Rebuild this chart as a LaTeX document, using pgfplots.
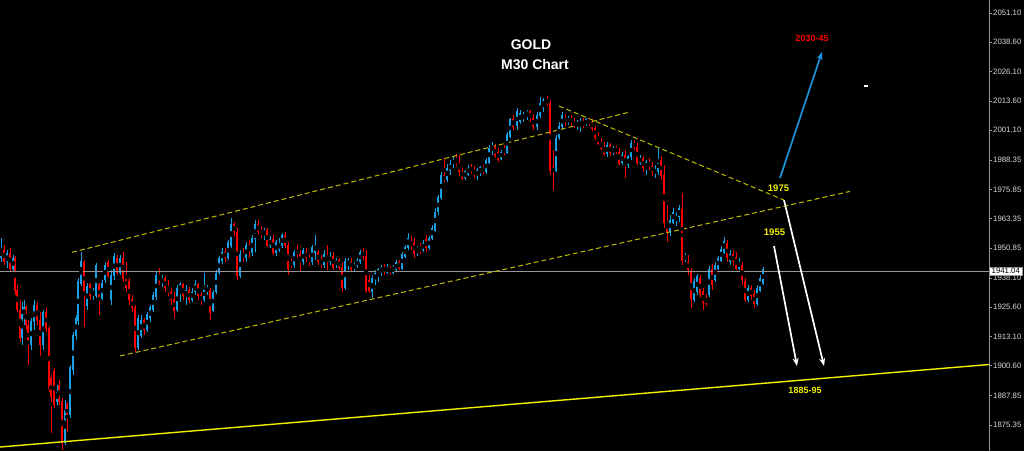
\documentclass[border=0pt]{standalone}
\usepackage{fontspec}
\setmainfont{Liberation Sans}
\usepackage{pgfplots}
\usepackage{pgfplotstable}
\pgfplotsset{compat=1.18}
\usetikzlibrary{arrows.meta}
\definecolor{cblue}{RGB}{25,160,230}
\definecolor{cred}{RGB}{255,0,0}
\definecolor{dyellow}{RGB}{190,190,0}
\definecolor{ayellow}{RGB}{240,240,0}
\definecolor{ablue}{RGB}{30,150,220}
\definecolor{axgray}{RGB}{150,150,150}

\pgfplotstableread{
x o h l c
1 1946.6 1955.1 1944.9 1950.0
4 1950.0 1952.1 1943.6 1944.9
7 1944.9 1950.0 1942.3 1948.7
10 1948.7 1950.9 1940.6 1942.3
13 1942.3 1947.9 1940.6 1946.6
15 1946.6 1947.4 1930.8 1932.9
17 1932.9 1935.1 1923.5 1924.4
20 1924.4 1928.7 1910.8 1912.5
22 1912.5 1927.8 1909.5 1922.3
24 1922.3 1928.7 1918.0 1925.3
26 1925.3 1926.5 1915.9 1918.0
28 1918.0 1920.1 1900.9 1909.5
31 1909.5 1921.0 1907.3 1919.3
34 1919.3 1928.7 1915.9 1926.5
37 1926.5 1927.8 1918.0 1920.1
40 1920.1 1923.5 1904.8 1909.5
43 1909.5 1924.4 1907.3 1923.5
46 1923.5 1925.3 1915.0 1916.7
49 1916.7 1917.6 1889.4 1891.1
51 1895.4 1896.7 1871.9 1887.3
54 1898.0 1899.7 1882.6 1883.9
57 1885.2 1892.4 1883.9 1889.4
59 1892.4 1894.5 1883.9 1885.2
62 1885.2 1886.9 1864.7 1867.7
65 1867.7 1886.0 1866.8 1881.7
67 1883.9 1885.2 1872.4 1878.8
70 1879.6 1900.9 1878.2 1899.7
73 1898.8 1915.0 1896.7 1913.7
76 1913.7 1922.3 1911.6 1921.0
78 1920.1 1938.0 1918.0 1936.4
81 1935.9 1949.1 1934.6 1944.9
84 1944.9 1945.7 1917.2 1930.8
87 1926.5 1935.9 1924.4 1934.6
90 1935.1 1935.9 1928.7 1930.4
93 1930.8 1933.8 1928.7 1932.9
96 1930.4 1944.5 1929.5 1943.6
99 1935.1 1935.9 1922.3 1928.7
102 1929.5 1937.2 1928.7 1935.9
105 1937.2 1944.9 1935.9 1943.6
108 1944.5 1945.7 1938.0 1939.3
111 1928.7 1941.5 1926.5 1939.3
114 1939.3 1948.7 1937.2 1947.4
117 1946.6 1947.9 1939.3 1940.6
120 1940.6 1947.9 1939.3 1946.6
123 1946.6 1949.1 1936.4 1938.0
126 1938.0 1944.9 1932.1 1933.8
129 1936.4 1938.0 1926.5 1928.7
132 1928.7 1930.8 1923.5 1925.3
135 1925.3 1926.5 1906.5 1908.2
138 1908.2 1922.3 1907.3 1921.0
141 1913.7 1922.3 1912.5 1920.1
144 1920.1 1921.0 1913.7 1915.9
147 1915.9 1923.5 1915.0 1922.3
150 1921.0 1926.5 1919.3 1925.3
153 1924.4 1932.1 1923.5 1930.8
156 1930.0 1940.6 1928.7 1939.3
159 1939.3 1942.3 1935.1 1936.4
162 1936.4 1939.3 1934.2 1938.0
165 1938.0 1938.9 1932.1 1933.8
168 1933.8 1937.2 1930.4 1931.7
171 1931.7 1933.8 1926.5 1928.7
174 1928.7 1932.1 1921.0 1924.4
177 1924.4 1935.1 1923.5 1933.8
180 1932.9 1936.4 1927.8 1935.1
183 1935.1 1935.9 1928.7 1930.4
186 1930.4 1935.1 1926.5 1932.9
189 1932.9 1934.2 1927.4 1928.7
192 1928.7 1933.8 1927.8 1932.1
195 1932.1 1937.2 1930.8 1935.1
198 1935.1 1935.9 1928.7 1930.4
201 1930.4 1932.1 1926.5 1928.7
204 1928.7 1940.2 1927.8 1933.8
207 1932.9 1935.1 1930.8 1933.8
210 1932.9 1933.8 1920.1 1923.5
213 1924.4 1932.9 1923.5 1932.1
216 1932.1 1941.5 1931.2 1940.2
219 1940.2 1947.4 1939.3 1946.2
222 1945.7 1950.9 1944.0 1949.1
225 1949.1 1950.9 1944.9 1946.6
228 1946.6 1954.3 1945.7 1953.0
231 1952.1 1963.6 1950.9 1961.1
234 1961.1 1961.9 1956.0 1957.7
237 1957.7 1959.4 1937.2 1939.3
240 1939.3 1950.0 1938.0 1947.9
243 1947.9 1950.9 1944.9 1946.6
246 1946.6 1953.4 1944.9 1952.1
249 1952.1 1954.3 1946.6 1950.0
252 1949.1 1956.4 1947.4 1955.1
255 1955.1 1962.8 1949.1 1960.7
258 1960.7 1962.8 1956.4 1957.7
261 1957.7 1960.2 1955.1 1956.4
264 1956.4 1959.4 1954.3 1958.5
267 1958.5 1959.4 1951.3 1952.1
270 1952.1 1956.0 1950.9 1954.3
273 1954.3 1956.4 1947.9 1949.1
276 1949.1 1954.3 1947.4 1953.0
279 1950.0 1955.1 1949.1 1953.0
282 1952.1 1957.2 1950.9 1956.0
285 1956.0 1957.7 1950.9 1952.1
288 1952.1 1953.4 1939.3 1942.3
291 1944.9 1946.6 1942.3 1943.6
294 1943.6 1950.0 1942.3 1949.1
297 1950.0 1952.1 1946.6 1947.9
300 1947.9 1950.0 1940.6 1944.9
303 1944.9 1950.9 1943.6 1950.0
306 1949.1 1950.9 1944.9 1946.6
309 1946.6 1948.3 1943.2 1944.9
312 1944.9 1952.1 1943.6 1950.9
315 1949.1 1956.4 1945.7 1952.1
318 1949.1 1950.0 1943.6 1944.9
321 1944.9 1947.9 1942.3 1944.0
324 1944.0 1950.0 1942.3 1947.9
327 1946.6 1952.1 1941.5 1944.9
330 1944.9 1949.1 1943.6 1947.4
333 1947.4 1949.1 1941.5 1942.7
336 1943.6 1946.6 1942.3 1945.7
339 1945.7 1946.6 1941.5 1942.7
342 1942.7 1944.9 1932.1 1933.8
345 1933.8 1946.6 1932.9 1944.9
348 1943.6 1946.6 1941.5 1945.7
351 1944.9 1946.6 1940.6 1942.3
354 1942.3 1944.9 1940.6 1943.6
357 1943.2 1946.6 1942.3 1945.7
360 1944.9 1950.0 1944.0 1949.1
363 1949.1 1950.9 1945.7 1947.4
366 1947.4 1950.0 1931.7 1932.9
369 1937.2 1939.3 1931.7 1932.9
372 1932.1 1939.3 1929.5 1938.0
375 1937.2 1941.5 1935.1 1940.2
378 1939.3 1942.3 1936.4 1941.5
381 1940.6 1943.6 1938.9 1942.7
384 1942.3 1944.0 1939.3 1941.5
387 1940.6 1944.0 1939.8 1942.3
390 1942.3 1943.2 1939.3 1940.6
393 1940.6 1943.6 1939.8 1942.7
396 1941.5 1945.7 1940.6 1944.5
399 1944.5 1945.7 1941.5 1942.7
402 1942.3 1949.1 1941.5 1948.3
405 1947.4 1952.1 1946.6 1951.3
408 1950.9 1957.2 1950.0 1955.1
411 1953.4 1956.0 1950.0 1952.1
414 1953.4 1955.1 1946.6 1948.7
417 1950.0 1951.7 1947.4 1950.9
420 1950.9 1953.0 1948.3 1949.6
423 1950.0 1954.3 1949.1 1953.0
426 1954.3 1956.4 1949.1 1950.9
429 1950.9 1956.0 1950.0 1955.1
432 1955.1 1960.7 1954.3 1959.4
435 1958.5 1967.9 1957.7 1966.2
438 1966.2 1973.5 1964.9 1972.2
441 1972.2 1983.3 1971.3 1982.0
444 1981.6 1989.2 1979.0 1979.9
447 1979.9 1986.7 1979.0 1985.0
450 1984.1 1988.4 1982.0 1986.7
453 1986.7 1990.1 1985.0 1988.4
456 1988.4 1991.0 1985.8 1987.1
459 1987.1 1990.5 1981.6 1983.3
462 1983.3 1985.0 1979.9 1981.1
465 1981.1 1984.1 1979.9 1983.3
468 1982.4 1986.3 1981.6 1985.0
471 1985.0 1986.7 1982.4 1984.1
474 1984.1 1985.8 1980.7 1982.0
477 1981.6 1985.0 1979.9 1984.1
480 1983.3 1985.8 1981.6 1985.0
483 1985.0 1986.3 1982.4 1983.7
486 1983.3 1989.2 1982.4 1988.4
489 1987.5 1994.8 1986.7 1993.5
492 1992.7 1996.1 1990.5 1994.8
495 1993.9 1995.2 1989.2 1990.5
498 1991.8 1993.5 1987.5 1988.4
501 1989.2 1992.7 1988.4 1991.8
504 1992.7 1994.8 1990.5 1991.8
507 1991.8 2000.3 1991.0 1999.1
510 1998.6 2006.3 1997.8 2005.5
513 2005.5 2007.6 2001.2 2002.5
517 2002.9 2010.6 2001.2 2008.9
520 2004.6 2009.7 2003.8 2008.4
523 2006.3 2008.9 2004.6 2007.6
527 2007.6 2009.7 2005.5 2008.9
530 2008.9 2009.7 2004.6 2006.3
533 2006.3 2008.0 2001.2 2002.5
537 2002.5 2008.9 2001.2 2007.2
540 2007.2 2015.3 2006.3 2012.3
543 2011.4 2014.8 2008.9 2014.0
547 2014.0 2015.7 2011.4 2012.7
550 2012.7 2014.0 1982.0 1984.1
553 1985.0 1992.7 1975.6 1983.3
556 1984.1 1999.1 1983.3 1997.8
559 1997.8 2004.6 1996.9 2002.9
562 2002.5 2008.9 2001.2 2007.2
565 2006.3 2008.0 2002.9 2004.6
568 2004.6 2007.2 2003.3 2006.3
571 2006.3 2007.6 2002.9 2004.2
574 2004.2 2006.3 2002.0 2003.3
577 2002.9 2005.5 2001.2 2004.6
580 2003.8 2006.3 2000.3 2004.2
583 2004.6 2006.3 2002.0 2002.9
586 2003.8 2006.3 2002.9 2005.5
589 2005.5 2006.3 2002.9 2004.2
592 2004.6 2005.9 2000.8 2002.0
595 2002.0 2002.9 1996.9 1998.2
598 1998.2 2000.3 1994.8 1995.6
601 1995.6 1997.8 1992.7 1993.5
604 1993.9 1996.1 1990.1 1991.0
607 1991.0 1996.1 1989.7 1994.8
610 1994.8 1995.6 1990.1 1991.4
613 1991.4 1994.4 1990.5 1993.5
616 1993.5 1994.4 1991.0 1991.8
619 1991.8 1993.5 1986.3 1987.1
622 1987.5 1991.8 1986.3 1990.5
625 1990.5 1992.7 1980.7 1986.3
628 1986.3 1990.5 1985.0 1989.7
631 1989.7 1996.9 1988.4 1995.6
634 1995.6 1996.9 1992.7 1993.9
637 1993.9 1995.6 1986.3 1987.5
640 1987.5 1990.5 1986.3 1989.2
643 1989.2 1990.1 1983.3 1985.0
646 1985.0 1988.4 1982.0 1987.5
649 1987.1 1989.2 1984.1 1985.8
652 1985.8 1987.5 1981.6 1983.3
655 1983.3 1986.3 1980.7 1984.1
658 1983.3 1993.9 1982.0 1988.4
661 1988.4 1990.1 1979.9 1981.6
664 1981.6 1986.3 1959.4 1961.9
667 1961.9 1969.2 1953.4 1957.7
670 1957.7 1964.9 1956.0 1962.8
673 1961.9 1967.9 1961.1 1966.2
676 1962.8 1966.2 1960.2 1964.5
679 1964.5 1969.2 1961.9 1967.9
682 1967.1 1974.3 1943.6 1945.7
685 1946.6 1948.7 1944.9 1947.4
688 1944.9 1947.9 1939.3 1941.5
691 1940.6 1942.3 1925.3 1929.5
694 1928.7 1938.0 1927.8 1936.4
697 1932.1 1939.8 1930.8 1938.9
700 1938.0 1939.3 1929.5 1931.2
703 1932.1 1933.8 1924.4 1927.8
706 1929.5 1931.2 1926.1 1927.0
709 1930.8 1943.2 1930.0 1941.5
712 1941.5 1944.0 1932.9 1935.1
715 1937.2 1944.9 1936.4 1943.6
718 1942.3 1947.4 1941.5 1946.6
721 1945.7 1951.7 1944.9 1950.4
724 1949.1 1955.6 1948.3 1953.8
727 1952.6 1954.3 1944.9 1946.6
730 1944.9 1950.0 1943.6 1948.3
733 1947.9 1950.0 1943.2 1944.9
736 1947.0 1949.1 1941.5 1942.3
739 1942.3 1946.6 1941.5 1944.9
742 1943.6 1944.9 1935.1 1937.2
745 1936.4 1938.0 1927.8 1928.7
748 1928.7 1935.1 1927.8 1933.8
751 1933.8 1935.1 1928.7 1930.4
754 1931.2 1932.9 1925.3 1927.0
757 1927.0 1935.1 1926.1 1933.8
760 1932.9 1939.3 1932.1 1938.0
763 1935.9 1942.7 1935.1 1941.5
}\candles

\begin{document}
\begin{tikzpicture}
\fill[black] (0,0) rectangle (1024pt,451pt);
\begin{axis}[
  at={(0pt,0pt)}, anchor=south west,
  scale only axis, width=989pt, height=451pt,
  xmin=0, xmax=989, ymin=1864.25, ymax=2056.65,
  clip=false,
  axis line style={draw=none},
  xtick=\empty,
  ytick={1875.35,1887.85,1900.60,1913.10,1925.60,1938.10,1950.85,1963.35,1975.85,1988.35,2001.10,2013.60,2026.10,2038.60,2051.10},
  yticklabels={1875.35,1887.85,1900.60,1913.10,1925.60,1938.10,1950.85,1963.35,1975.85,1988.35,2001.10,2013.60,2026.10,2038.60,2051.10},
  ytick pos=right, yticklabel pos=right,
  tick align=outside, major tick length=2.5pt,
  ytick style={draw=axgray, line width=0.6pt},
  yticklabel style={font=\fontsize{7.8}{8}\selectfont, text=white!85!black, inner sep=0pt, anchor=west, xshift=1.5pt},
]
% candles: wicks then bodies
\addplot[only marks, mark=none, forget plot, error bars/.cd, y dir=both, y explicit, error mark=none,
  error bar style={line width=1pt, draw=cblue}]
  table[x=x, y expr={\thisrow{c}>=\thisrow{o} ? (\thisrow{h}+\thisrow{l})/2 : nan}, y error expr={(\thisrow{h}-\thisrow{l})/2}] {\candles};
\addplot[only marks, mark=none, forget plot, error bars/.cd, y dir=both, y explicit, error mark=none,
  error bar style={line width=1pt, draw=cred}]
  table[x=x, y expr={\thisrow{c}<\thisrow{o} ? (\thisrow{h}+\thisrow{l})/2 : nan}, y error expr={(\thisrow{h}-\thisrow{l})/2}] {\candles};
\addplot[only marks, mark=none, forget plot, error bars/.cd, y dir=both, y explicit, error mark=none,
  error bar style={line width=2.6pt, draw=cblue}]
  table[x=x, y expr={\thisrow{c}>=\thisrow{o} ? (\thisrow{o}+\thisrow{c})/2 : nan}, y error expr={abs(\thisrow{c}-\thisrow{o})/2+0.2}] {\candles};
\addplot[only marks, mark=none, forget plot, error bars/.cd, y dir=both, y explicit, error mark=none,
  error bar style={line width=2.6pt, draw=cred}]
  table[x=x, y expr={\thisrow{c}<\thisrow{o} ? (\thisrow{o}+\thisrow{c})/2 : nan}, y error expr={abs(\thisrow{c}-\thisrow{o})/2+0.2}] {\candles};

% current price line
\addplot[axgray, line width=0.8pt] coordinates {(0,1941.04) (989,1941.04)};
% channel & trend lines
\addplot[dyellow, line width=1pt, dash pattern=on 5pt off 3pt] coordinates {(72,1949.0) (630,2008.9)};
\addplot[dyellow, line width=1pt, dash pattern=on 5pt off 3pt] coordinates {(120,1904.8) (850,1975.0)};
\addplot[dyellow, line width=1pt, dash pattern=on 5pt off 3pt] coordinates {(559,2011.4) (784,1971.3)};
\addplot[ayellow, line width=1.4pt] coordinates {(0,1865.95) (989,1901.15)};
% arrows
\addplot[white, line width=1.7pt, -{Stealth[length=8pt,width=6pt]}] coordinates {(774,1951.7) (797,1900.5)};
\addplot[white, line width=1.7pt, -{Stealth[length=8pt,width=6pt]}] coordinates {(784,1971.3) (824,1900.5)};
\addplot[ablue, line width=1.7pt, -{Stealth[length=8pt,width=6pt]}] coordinates {(780,1980.7) (822,2034.5)};
\addplot[white, line width=1.5pt] coordinates {(864,2020.0) (868,2020.0)};

% right axis line
\draw[axgray, line width=0.8pt] (axis cs:989,1864.25) -- (axis cs:989,2056.65);

% labels
\node[text=white, font=\bfseries\fontsize{14}{16}\selectfont] at (axis cs:531,2037.4) {GOLD};
\node[text=white, font=\bfseries\fontsize{14}{16}\selectfont] at (axis cs:535,2029.3) {M30 Chart};
\node[text=cred, font=\bfseries\fontsize{9}{10}\selectfont] at (axis cs:812,2040.4) {2030-45};
\node[text=ayellow, font=\bfseries\fontsize{9.5}{10}\selectfont] at (axis cs:778.5,1976.2) {1975};
\node[text=ayellow, font=\bfseries\fontsize{9.5}{10}\selectfont] at (axis cs:774.5,1957.5) {1955};
\node[text=ayellow, font=\bfseries\fontsize{9}{10}\selectfont] at (axis cs:805,1890.3) {1885-95};
\node[fill=white, text=black, draw=axgray, inner xsep=2.5pt, inner ysep=1pt, anchor=west,
  font=\fontsize{7.8}{8}\selectfont] at (axis cs:989,1941.04) {1941.04};
\end{axis}
\pgfresetboundingbox
\path[use as bounding box] (0,0) rectangle (1024pt,451pt);
\end{tikzpicture}
\end{document}
